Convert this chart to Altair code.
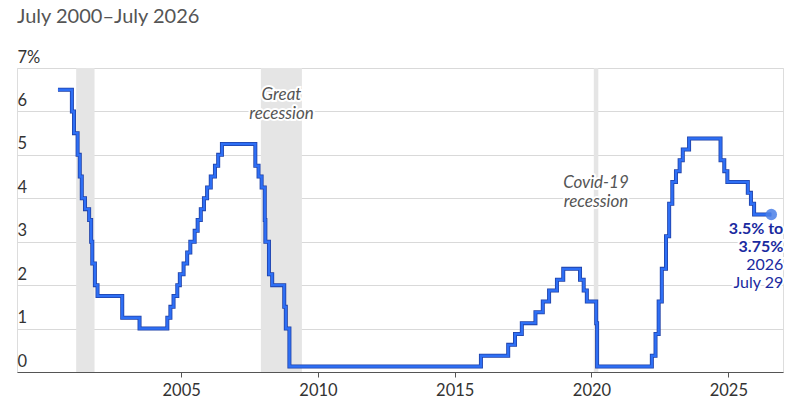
import altair as alt
import pandas as pd

# Federal funds target rate (midpoint of range after 2008)
dates = [
    "2000-07-01", "2001-01-03", "2001-01-31", "2001-03-20", "2001-04-18", "2001-05-15",
    "2001-06-27", "2001-08-21", "2001-09-17", "2001-10-02", "2001-11-06", "2001-12-11",
    "2002-11-06", "2003-06-25", "2004-06-30", "2004-08-10", "2004-09-21", "2004-11-10",
    "2004-12-14", "2005-02-02", "2005-03-22", "2005-05-03", "2005-06-30", "2005-08-09",
    "2005-09-20", "2005-11-01", "2005-12-13", "2006-01-31", "2006-03-28", "2006-05-10",
    "2006-06-29", "2007-09-18", "2007-10-31", "2007-12-11", "2008-01-22", "2008-01-30",
    "2008-03-18", "2008-04-30", "2008-10-08", "2008-10-29", "2008-12-16", "2015-12-17",
    "2016-12-15", "2017-03-16", "2017-06-15", "2017-12-14", "2018-03-22", "2018-06-14",
    "2018-09-27", "2018-12-20", "2019-08-01", "2019-09-19", "2019-10-31", "2020-03-04",
    "2020-03-16", "2022-03-17", "2022-05-05", "2022-06-16", "2022-07-28", "2022-09-22",
    "2022-11-03", "2022-12-15", "2023-02-02", "2023-03-23", "2023-05-04", "2023-07-27",
    "2024-09-19", "2024-11-08", "2024-12-19", "2025-09-18", "2025-10-30", "2025-12-11",
    "2026-07-29",
]
rates = [
    6.5, 6.0, 5.5, 5.0, 4.5, 4.0,
    3.75, 3.5, 3.0, 2.5, 2.0, 1.75,
    1.25, 1.0, 1.25, 1.5, 1.75, 2.0,
    2.25, 2.5, 2.75, 3.0, 3.25, 3.5,
    3.75, 4.0, 4.25, 4.5, 4.75, 5.0,
    5.25, 4.75, 4.5, 4.25, 3.5, 3.0,
    2.25, 2.0, 1.5, 1.0, 0.125, 0.375,
    0.625, 0.875, 1.125, 1.375, 1.625, 1.875,
    2.125, 2.375, 2.125, 1.875, 1.625, 1.125,
    0.125, 0.375, 0.875, 1.625, 2.375, 3.125,
    3.875, 4.375, 4.625, 4.875, 5.125, 5.375,
    4.875, 4.625, 4.375, 4.125, 3.875, 3.625,
    3.625,
]

# Recessions
rec_start = ["2001-03-01", "2007-12-01", "2020-02-01"]
rec_end = ["2001-11-01", "2009-06-01", "2020-04-01"]

# Recession labels
rec_label_text = ["Great", "recession", "Covid-19", "recession"]
rec_label_date = ["2008-09-01", "2008-09-01", "2020-03-01", "2020-03-01"]
rec_label_y = [6.38, 5.94, 4.35, 3.92]

# End annotation
end_bold_text = ["3.5% to", "3.75%"]
end_bold_y = [3.30, 2.88]
end_norm_text = ["2026", "July 29"]
end_norm_y = [2.47, 2.05]
end_date = "2026-07-29"
end_value = 3.625

x_ticks = ["2005-01-01", "2010-01-01", "2015-01-01", "2020-01-01", "2025-01-01"]
x_domain = ["1999-01-01", "2027-01-01"]
y_ticks = [0, 1, 2, 3, 4, 5, 6, 7]

FONT = "Lato"
W, H = 766, 304

rate_df = pd.DataFrame({"date": dates, "rate": rates})
rec_df = pd.DataFrame({"start": rec_start, "end": rec_end})
lab_df = pd.DataFrame({"date": rec_label_date, "y": rec_label_y, "text": rec_label_text})
endb_df = pd.DataFrame({"date": [end_date] * 2, "y": end_bold_y, "text": end_bold_text})
endn_df = pd.DataFrame({"date": [end_date] * 2, "y": end_norm_y, "text": end_norm_text})
pt_df = pd.DataFrame({"date": [end_date], "rate": [end_value]})

xscale = alt.Scale(domain=x_domain)
yscale = alt.Scale(domain=[0, 7], nice=False)

x_axis = alt.Axis(
    values=x_ticks, format="%Y", title=None, grid=False,
    domainColor="#555", domainWidth=1, tickColor="#555", tickSize=5,
    labelColor="#333", labelFontSize=16.5, labelFont=FONT, labelPadding=5,
)
y_axis = alt.Axis(
    values=y_ticks, title=None, domain=False, ticks=False, tickSize=0,
    grid=True, gridColor="#d9d9d9", gridWidth=1,
    labelAlign="left", labelBaseline="alphabetic", labelPadding=0, labelOffset=-6,
    labelColor="#333", labelFontSize=16.5, labelFont=FONT,
    labelExpr="datum.value == 7 ? '7%' : datum.label",
)

rects = alt.Chart(rec_df).mark_rect(color="#e5e5e5").encode(
    x=alt.X("start:T", scale=xscale, axis=x_axis),
    x2="end:T",
)

base = alt.Chart(rate_df).encode(
    x=alt.X("date:T", scale=xscale, axis=x_axis),
    y=alt.Y("rate:Q", scale=yscale, axis=y_axis),
)
line_outer = base.mark_line(interpolate="step-after", color="#1f40a6", strokeWidth=4)
line_inner = base.mark_line(interpolate="step-after", color="#2e6ff5", strokeWidth=2.4)


def text_layers(df, align, dx=0, **kw):
    enc = dict(
        x=alt.X("date:T", scale=xscale),
        y=alt.Y("y:Q", scale=yscale),
        text="text:N",
    )
    halo = alt.Chart(df).mark_text(
        font=FONT, align=align, baseline="middle", dx=dx,
        stroke="white", strokeWidth=4, **kw,
    ).encode(**enc)
    txt = alt.Chart(df).mark_text(
        font=FONT, align=align, baseline="middle", dx=dx, **kw,
    ).encode(**enc)
    return [halo, txt]


lab_layers = text_layers(lab_df, "center", fontSize=17, fontStyle="italic", color="#555")
endb_layers = text_layers(endb_df, "right", dx=12, fontSize=16, fontWeight="bold", color="#1a2aa0")
endn_layers = text_layers(endn_df, "right", dx=12, fontSize=16, fontWeight="normal", color="#1a2aa0")

point = alt.Chart(pt_df).mark_circle(size=130, color="#4a7fe8", opacity=0.85).encode(
    x=alt.X("date:T", scale=xscale),
    y=alt.Y("rate:Q", scale=yscale),
)

chart = alt.layer(
    rects, line_outer, line_inner, *lab_layers, point, *endb_layers, *endn_layers
).properties(
    width=W, height=H,
    title=alt.TitleParams(
        "July 2000\u2013July 2026", anchor="start", frame="group",
        font=FONT, fontSize=20, fontWeight="normal", color="#555", offset=22,
    ),
    autosize=alt.AutoSizeParams(type="none"),
    padding={"left": 17, "top": 68, "right": 15, "bottom": 38},
).configure_view(stroke=None).configure(background="white")

chart.save("out.html", embed_options={"renderer": "svg", "actions": False})
